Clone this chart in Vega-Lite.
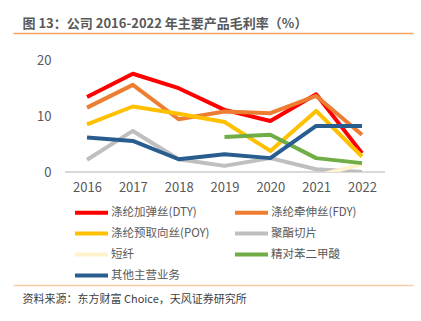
{
  "$schema": "https://vega.github.io/schema/vega-lite/v6.json",
  "width": 400,
  "height": 139,
  "autosize": {"type": "none"},
  "padding": {"left": 13, "top": 33, "right": 8, "bottom": 149},
  "background": "white",
  "config": {
    "view": {"stroke": null},
    "font": "Liberation Sans Narrow, Noto Sans CJK SC, sans-serif"
  },
  "data": {
    "values": [
      {"year": 2016, "series": "涤纶加弹丝(DTY)", "value": 13.5},
      {"year": 2017, "series": "涤纶加弹丝(DTY)", "value": 17.7},
      {"year": 2018, "series": "涤纶加弹丝(DTY)", "value": 15.1},
      {"year": 2019, "series": "涤纶加弹丝(DTY)", "value": 11.2},
      {"year": 2020, "series": "涤纶加弹丝(DTY)", "value": 9.2},
      {"year": 2021, "series": "涤纶加弹丝(DTY)", "value": 14.0},
      {"year": 2022, "series": "涤纶加弹丝(DTY)", "value": 3.4},
      {"year": 2016, "series": "涤纶牵伸丝(FDY)", "value": 11.6},
      {"year": 2017, "series": "涤纶牵伸丝(FDY)", "value": 15.7},
      {"year": 2018, "series": "涤纶牵伸丝(FDY)", "value": 9.5},
      {"year": 2019, "series": "涤纶牵伸丝(FDY)", "value": 10.9},
      {"year": 2020, "series": "涤纶牵伸丝(FDY)", "value": 10.6},
      {"year": 2021, "series": "涤纶牵伸丝(FDY)", "value": 13.7},
      {"year": 2022, "series": "涤纶牵伸丝(FDY)", "value": 6.7},
      {"year": 2016, "series": "涤纶预取向丝(POY)", "value": 8.6},
      {"year": 2017, "series": "涤纶预取向丝(POY)", "value": 11.8},
      {"year": 2018, "series": "涤纶预取向丝(POY)", "value": 10.5},
      {"year": 2019, "series": "涤纶预取向丝(POY)", "value": 9.0},
      {"year": 2020, "series": "涤纶预取向丝(POY)", "value": 3.8},
      {"year": 2021, "series": "涤纶预取向丝(POY)", "value": 11.0},
      {"year": 2022, "series": "涤纶预取向丝(POY)", "value": 2.8},
      {"year": 2016, "series": "聚酯切片", "value": 2.2},
      {"year": 2017, "series": "聚酯切片", "value": 7.4},
      {"year": 2018, "series": "聚酯切片", "value": 2.3},
      {"year": 2019, "series": "聚酯切片", "value": 1.1},
      {"year": 2020, "series": "聚酯切片", "value": 2.5},
      {"year": 2021, "series": "聚酯切片", "value": 0.5},
      {"year": 2022, "series": "聚酯切片", "value": 0.0},
      {"year": 2021, "series": "短纤", "value": -0.7},
      {"year": 2022, "series": "短纤", "value": 1.4},
      {"year": 2019, "series": "精对苯二甲酸", "value": 6.3},
      {"year": 2020, "series": "精对苯二甲酸", "value": 6.7},
      {"year": 2021, "series": "精对苯二甲酸", "value": 2.5},
      {"year": 2022, "series": "精对苯二甲酸", "value": 1.6},
      {"year": 2016, "series": "其他主营业务", "value": 6.2},
      {"year": 2017, "series": "其他主营业务", "value": 5.6},
      {"year": 2018, "series": "其他主营业务", "value": 2.3},
      {"year": 2019, "series": "其他主营业务", "value": 3.2},
      {"year": 2020, "series": "其他主营业务", "value": 2.5},
      {"year": 2021, "series": "其他主营业务", "value": 8.3},
      {"year": 2022, "series": "其他主营业务", "value": 8.3}
    ]
  },
  "resolve": {"axis": {"x": "independent"}},
  "layer": [
    {
      "mark": {"type": "rule", "color": "#D9D9D9", "strokeWidth": 1.5},
      "encoding": {
        "x": {
          "datum": 2015.52, "type": "quantitative",
          "scale": {"domain": [2014.385, 2023.113], "nice": false, "zero": false},
          "axis": {
            "orient": "top", "labels": false, "ticks": false, "grid": false,
            "domainColor": "#F4A460", "domainWidth": 1.5,
            "title": "图 13：公司 2016-2022 年主要产品毛利率（%）",
            "titleX": 9, "titleAlign": "left", "titlePadding": 3,
            "titleFontSize": 13, "titleFontWeight": "bold", "titleColor": "#595959",
            "titleFont": "Liberation Sans Narrow, Noto Sans CJK SC, sans-serif"
          }
        },
        "x2": {"datum": 2022.5},
        "y": {"datum": 0, "type": "quantitative"}
      }
    },
    {
      "mark": {"type": "rule", "opacity": 0},
      "encoding": {
        "x": {
          "datum": 2015.52, "type": "quantitative",
          "scale": {"domain": [2014.385, 2023.113], "nice": false, "zero": false},
          "axis": {
            "orient": "bottom", "offset": 113, "labels": false, "ticks": false, "grid": false,
            "domainColor": "#F9CBA2", "domainWidth": 1.5,
            "title": "资料来源：东方财富 Choice，天风证券研究所",
            "titleX": 9, "titleAlign": "left", "titlePadding": 8,
            "titleFontSize": 11, "titleFontWeight": "normal", "titleColor": "#404040",
            "titleFont": "Noto Sans CJK SC, sans-serif"
          }
        },
        "x2": {"datum": 2022.5},
        "y": {"datum": 0, "type": "quantitative"}
      }
    },
    {
      "mark": {"type": "line", "strokeWidth": 4, "clip": true, "strokeJoin": "round", "strokeCap": "butt"},
      "encoding": {
        "x": {
          "field": "year", "type": "quantitative",
          "scale": {"domain": [2014.385, 2023.113], "nice": false, "zero": false},
          "axis": {
            "orient": "bottom", "values": [2016, 2017, 2018, 2019, 2020, 2021, 2022], "format": "d",
            "domain": false, "ticks": false, "grid": false, "labelPadding": 9,
            "labelFontSize": 13, "labelColor": "#595959", "title": null
          }
        },
        "y": {
          "field": "value", "type": "quantitative",
          "scale": {"domain": [0, 25.045], "nice": false, "zero": false},
          "axis": {
            "values": [0, 10, 20], "offset": -52, "domain": false, "ticks": false, "grid": false,
            "labelPadding": 14, "labelFontSize": 13, "labelColor": "#595959", "title": null
          }
        },
        "color": {
          "field": "series", "type": "nominal",
          "scale": {
            "domain": ["涤纶加弹丝(DTY)", "涤纶牵伸丝(FDY)", "涤纶预取向丝(POY)", "聚酯切片", "短纤", "精对苯二甲酸", "其他主营业务"],
            "range": ["#FF0000", "#ED7D31", "#FFC000", "#BFBFBF", "#FFF2CC", "#70AD47", "#2A5D8F"]
          },
          "legend": {
            "title": null, "orient": "none", "legendX": 71, "legendY": 172, "columns": 2,
            "direction": "horizontal",
            "symbolType": "M-3,0H3", "symbolSize": 121, "symbolStrokeWidth": 4,
            "labelFontSize": 11.5, "labelColor": "#595959", "labelFont": "Noto Sans CJK SC, sans-serif",
            "rowPadding": 4, "columnPadding": 17, "labelOffset": 12
          }
        }
      }
    }
  ]
}
